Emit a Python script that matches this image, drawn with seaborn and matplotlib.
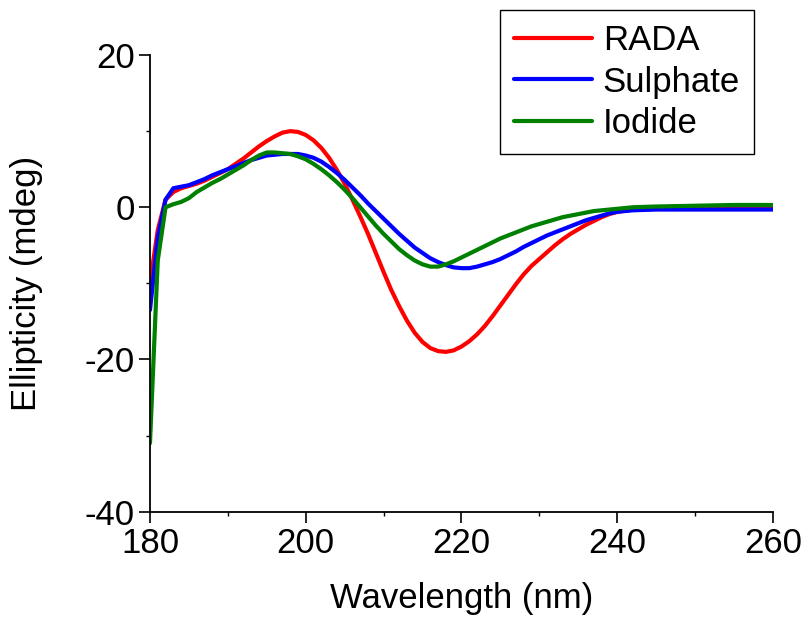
import numpy as np
import pandas as pd
import matplotlib
matplotlib.use("Agg")
import matplotlib.pyplot as plt
import seaborn as sns
from matplotlib.ticker import MultipleLocator

sns.set_style("ticks")
plt.rcParams['font.family'] = ['Liberation Sans', 'DejaVu Sans']
plt.rcParams['axes.unicode_minus'] = False
plt.rcParams['text.color'] = 'black'
plt.rcParams['axes.labelcolor'] = 'black'
plt.rcParams['xtick.color'] = 'black'
plt.rcParams['ytick.color'] = 'black'

wavelength = [180, 181, 182, 183, 184, 185, 186, 187, 188, 189,
              190, 191, 192, 193, 194, 195, 196, 197, 198, 199,
              200, 201, 202, 203, 204, 205, 206, 207, 208, 209,
              210, 211, 212, 213, 214, 215, 216, 217, 218, 219,
              220, 221, 222, 223, 224, 225, 226, 227, 228, 229,
              230, 231, 232, 233, 234, 235, 236, 237, 238, 239,
              240, 242, 245, 250, 255, 260]

rada = [-10, -3, 1, 2, 2.5, 2.8, 3.1, 3.5, 4.0, 4.5,
        5.0, 5.7, 6.4, 7.2, 8.0, 8.7, 9.3, 9.8, 10.0, 9.9,
        9.5, 8.8, 7.8, 6.5, 4.9, 3.1, 1.0, -1.2, -3.5, -6.0,
        -8.5, -10.9, -13.0, -14.9, -16.5, -17.7, -18.5, -18.9, -19.0, -18.8,
        -18.3, -17.6, -16.7, -15.6, -14.3, -12.9, -11.5, -10.1, -8.8, -7.7,
        -6.8, -5.9, -5.0, -4.2, -3.5, -2.9, -2.3, -1.8, -1.3, -0.9,
        -0.6, -0.3, 0.0, 0.1, 0.1, 0.1]

sulphate = [-13.5, -4, 1, 2.5, 2.7, 2.9, 3.3, 3.7, 4.2, 4.6,
            5.0, 5.4, 5.8, 6.2, 6.5, 6.8, 6.9, 7.0, 7.0, 7.0,
            6.8, 6.5, 6.0, 5.3, 4.5, 3.6, 2.6, 1.6, 0.5, -0.5,
            -1.5, -2.5, -3.5, -4.4, -5.3, -6.0, -6.7, -7.2, -7.6, -7.9,
            -8.0, -8.0, -7.8, -7.5, -7.2, -6.8, -6.3, -5.8, -5.2, -4.7,
            -4.2, -3.7, -3.3, -2.9, -2.5, -2.1, -1.7, -1.4, -1.1, -0.8,
            -0.6, -0.4, -0.3, -0.3, -0.3, -0.3]

iodide = [-31, -7, 0, 0.4, 0.7, 1.2, 2.0, 2.6, 3.2, 3.7,
          4.3, 4.9, 5.5, 6.2, 6.8, 7.2, 7.2, 7.1, 7.0, 6.7,
          6.3, 5.7, 5.0, 4.2, 3.3, 2.3, 1.2, 0.0, -1.2, -2.4,
          -3.5, -4.5, -5.5, -6.3, -7.0, -7.5, -7.8, -7.8, -7.5, -7.1,
          -6.6, -6.1, -5.6, -5.1, -4.6, -4.1, -3.7, -3.3, -2.9, -2.5,
          -2.2, -1.9, -1.6, -1.3, -1.1, -0.9, -0.7, -0.5, -0.4, -0.3,
          -0.2, 0.0, 0.1, 0.2, 0.3, 0.3]

series_names = ["RADA", "Sulphate", "Iodide"]
colors = ["#FF0000", "#0000FF", "#008000"]

df = pd.DataFrame({
    "Wavelength": wavelength * 3,
    "Ellipticity": rada + sulphate + iodide,
    "Sample": [series_names[0]] * len(wavelength) + [series_names[1]] * len(wavelength)
              + [series_names[2]] * len(wavelength),
})

fig = plt.figure(figsize=(8.05, 6.19), dpi=100)
ax = fig.add_axes([0.1863, 0.1733, 0.7739, 0.7378])

sns.lineplot(data=df, x="Wavelength", y="Ellipticity", hue="Sample",
             palette=colors, hue_order=series_names, linewidth=3, ax=ax,
             estimator=None, sort=True)

ax.set_xlim(180, 260)
ax.set_ylim(-40, 20)
ax.set_xticks([180, 200, 220, 240, 260])
ax.set_yticks([-40, -20, 0, 20])
ax.xaxis.set_minor_locator(MultipleLocator(10))
ax.yaxis.set_minor_locator(MultipleLocator(10))
ax.tick_params(axis='both', which='major', length=8, width=1.2, labelsize=25,
               direction='out', color='black', labelcolor='black', pad=3)
ax.tick_params(axis='both', which='minor', length=3, width=1.0, direction='out')

for s in ['top', 'right']:
    ax.spines[s].set_visible(False)
for s in ['left', 'bottom']:
    ax.spines[s].set_linewidth(1.3)
    ax.spines[s].set_color('black')

ax.set_xlabel("Wavelength (nm)", fontsize=25, labelpad=16, color='black')
ax.set_ylabel("Ellipticity (mdeg)", fontsize=25, labelpad=30, color='black')

leg = ax.legend(loc='upper right', bbox_to_anchor=(0.9695, 1.0985),
                borderaxespad=0, fontsize=25, frameon=True, fancybox=False,
                framealpha=1, edgecolor='black', handlelength=2.25,
                handletextpad=0.32, labelspacing=0.25, borderpad=0.4)
leg.get_frame().set_linewidth(1.0)
for line in leg.get_lines():
    line.set_linewidth(3)
for t in leg.get_texts():
    t.set_color('black')

fig.savefig("out.png", dpi=100)
